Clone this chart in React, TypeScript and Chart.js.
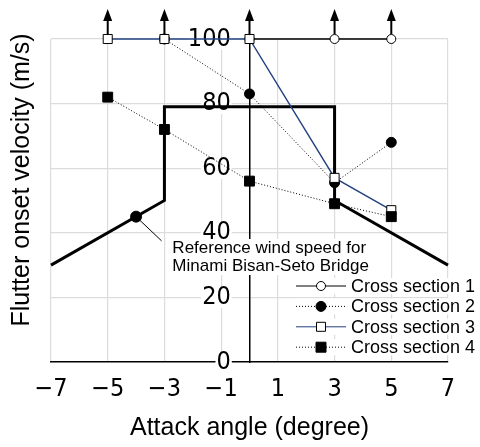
import React, { useEffect, useRef } from "react";
import { Chart, registerables } from "chart.js";

Chart.register(...registerables);

// ---- data ----
const xTicks = [-7, -5, -3, -1, 1, 3, 5, 7];
const yTicks = [0, 20, 40, 60, 80, 100];

const sec1X = [0, 3, 5];
const sec1Y = [100, 100, 100];
const sec2X = [-3, 0, 3, 5];
const sec2Y = [100, 83, 55.5, 68];
const sec3X = [-5, -3, 0, 3, 5];
const sec3Y = [100, 100, 100, 57, 47];
const sec4X = [-5, -3, 0, 3, 5];
const sec4Y = [82, 72, 56, 49, 45];

const refX = [-7, -3, -3, 3, 3, 7];
const refY = [30, 50, 79, 79, 50, 30];
const refMarkX = [-4, -3.1];
const refMarkY = [45, 37.5];

const arrowX = [-5, -3, 0, 3, 5];
const arrowY = [100, 100, 100, 100, 100];

const annotationLines = ["Reference wind speed for", "Minami Bisan-Seto Bridge"];
const annotationX = -2.72;
const annotationY = 35.3;

const legendLabels = ["Cross section 1", "Cross section 2", "Cross section 3", "Cross section 4"];
const xTitle = "Attack angle (degree)";
const yTitle = "Flutter onset velocity (m/s)";

const NAVY = "#24417f";
const NARROW = '"Liberation Sans Narrow", "DejaVu Sans Condensed", "Roboto Condensed", sans-serif';
const SANS = '"Liberation Sans", Arial, Helvetica, sans-serif';

const pts = (xs: number[], ys: number[]) => xs.map((x, i) => ({ x, y: ys[i] }));

type Style = { color: string; dash: number[]; marker: "oc" | "fc" | "os" | "fs" };
const legendStyles: Style[] = [
  { color: "#000", dash: [], marker: "oc" },
  { color: "#000", dash: [1, 2], marker: "fc" },
  { color: NAVY, dash: [], marker: "os" },
  { color: "#000", dash: [1, 2], marker: "fs" },
];

function drawMarker(ctx: CanvasRenderingContext2D, m: Style["marker"], cx: number, cy: number) {
  ctx.save();
  ctx.setLineDash([]);
  ctx.lineWidth = 1;
  ctx.strokeStyle = "#000";
  ctx.beginPath();
  if (m === "oc" || m === "fc") {
    ctx.arc(cx, cy, m === "oc" ? 4.5 : 5, 0, Math.PI * 2);
  } else {
    const s = m === "os" ? 4.5 : 5;
    ctx.rect(cx - s, cy - s, 2 * s, 2 * s);
  }
  ctx.fillStyle = m === "oc" || m === "os" ? "#fff" : "#000";
  ctx.fill();
  ctx.stroke();
  ctx.restore();
}

const overlayPlugin = {
  id: "overlay",
  afterDatasetsDraw(chart: any) {
    const { ctx, chartArea } = chart;
    const xs = chart.scales.x;
    const ys = chart.scales.y;
    ctx.save();

    // arrows above points at the top
    ctx.strokeStyle = "#000";
    ctx.fillStyle = "#000";
    arrowX.forEach((v, i) => {
      const px = xs.getPixelForValue(v);
      const py = ys.getPixelForValue(arrowY[i]);
      ctx.lineWidth = 2;
      ctx.setLineDash([]);
      ctx.beginPath();
      ctx.moveTo(px, py - 5);
      ctx.lineTo(px, py - 19);
      ctx.stroke();
      ctx.beginPath();
      ctx.moveTo(px, py - 30);
      ctx.lineTo(px - 4.5, py - 18);
      ctx.lineTo(px + 4.5, py - 18);
      ctx.closePath();
      ctx.fill();
    });

    // annotation text
    ctx.font = `17px ${SANS}`;
    ctx.textBaseline = "middle";
    ctx.textAlign = "left";
    const ax = xs.getPixelForValue(annotationX);
    const ay = ys.getPixelForValue(annotationY);
    annotationLines.forEach((t, i) => {
      const w = ctx.measureText(t).width;
      ctx.fillStyle = "#fff";
      ctx.fillRect(ax - 2, ay + i * 18 - 9, w + 4, 18);
    });
    ctx.fillStyle = "#000";
    annotationLines.forEach((t, i) => {
      ctx.fillText(t, ax, ay + i * 18);
    });

    // legend
    ctx.font = `18px ${SANS}`;
    legendLabels.forEach((t, i) => {
      const cy = chartArea.bottom - 76 + i * 20.4;
      const x0 = chartArea.right - 152;
      const st = legendStyles[i];
      const w = ctx.measureText(t).width;
      ctx.fillStyle = "#fff";
      ctx.fillRect(x0, cy - 8, 55 + w, 16);
      ctx.strokeStyle = st.color;
      ctx.lineWidth = 1;
      ctx.setLineDash(st.dash);
      ctx.beginPath();
      ctx.moveTo(x0, cy);
      ctx.lineTo(x0 + 50, cy);
      ctx.stroke();
      drawMarker(ctx, st.marker, x0 + 25, cy);
      ctx.fillStyle = "#000";
      ctx.textAlign = "left";
      ctx.textBaseline = "middle";
      ctx.fillText(t, x0 + 55, cy + 1);
    });

    // y title
    ctx.save();
    ctx.translate(chartArea.left - 29, 180);
    ctx.rotate(-Math.PI / 2);
    ctx.font = `25px ${SANS}`;
    ctx.fillStyle = "#000";
    ctx.textAlign = "center";
    ctx.textBaseline = "middle";
    ctx.fillText(yTitle, 0, 0);
    ctx.restore();

    ctx.restore();
  },
};

export default function App() {
  const ref = useRef<HTMLCanvasElement | null>(null);
  useEffect(() => {
    document.body.style.margin = "0";
    const canvas = ref.current!;
    const chart = new Chart(canvas, {
      type: "line",
      data: {
        datasets: [
          {
            label: legendLabels[3],
            data: pts(sec4X, sec4Y),
            borderColor: "#000",
            borderWidth: 1,
            borderDash: [1, 2],
            pointStyle: "rect",
            pointRadius: 7,
            pointBackgroundColor: "#000",
            pointBorderColor: "#000",
            pointBorderWidth: 1,
            clip: false as any,
            order: 0,
          },
          {
            label: legendLabels[2],
            data: pts(sec3X, sec3Y),
            borderColor: NAVY,
            borderWidth: 1.4,
            pointStyle: "rect",
            pointRadius: 6.4,
            pointBackgroundColor: "#fff",
            pointBorderColor: "#000",
            pointBorderWidth: 1,
            clip: false as any,
            order: 1,
          },
          {
            label: legendLabels[1],
            data: pts(sec2X, sec2Y),
            borderColor: "#000",
            borderWidth: 1,
            borderDash: [1, 2],
            pointStyle: "circle",
            pointRadius: 5,
            pointBackgroundColor: "#000",
            pointBorderColor: "#000",
            pointBorderWidth: 1,
            clip: false as any,
            order: 2,
          },
          {
            label: legendLabels[0],
            data: pts(sec1X, sec1Y),
            borderColor: "#000",
            borderWidth: 1.6,
            pointStyle: "circle",
            pointRadius: 4.5,
            pointBackgroundColor: "#fff",
            pointBorderColor: "#000",
            pointBorderWidth: 1,
            clip: false as any,
            order: 3,
          },
          {
            label: "Reference marker",
            data: pts(refMarkX, refMarkY),
            borderColor: "#000",
            borderWidth: 1,
            pointRadius: [5.5, 0],
            pointBackgroundColor: "#000",
            pointBorderColor: "#000",
            clip: false as any,
            order: 4,
          },
          {
            label: "Reference wind speed",
            data: pts(refX, refY),
            borderColor: "#000",
            borderWidth: 3,
            pointRadius: 0,
            clip: false as any,
            order: 5,
          },
        ],
      },
      options: {
        responsive: false,
        animation: false,
        events: [],
        layout: { padding: { top: 39, right: 32, left: 51, bottom: 0 } },
        plugins: {
          legend: { display: false },
          tooltip: { enabled: false },
        },
        scales: {
          x: {
            type: "linear",
            min: -7,
            max: 7,
            afterBuildTicks: (s: any) => {
              s.ticks = xTicks.map((v) => ({ value: v }));
            },
            afterFit: (s: any) => {
              s.height = 85;
            },
            grid: { color: "#dcdcdc", lineWidth: 1.2, drawTicks: false },
            border: { color: "#000", width: 1.5 },
            ticks: {
              padding: 12,
              color: "#000",
              font: { family: NARROW, size: 25, lineHeight: 1.2 },
              callback: (v: any) => (Number(v) < 0 ? "\u2212" + Math.abs(Number(v)) : String(v)),
            },
            title: {
              display: true,
              text: xTitle,
              color: "#000",
              font: { family: SANS, size: 25, lineHeight: 1.2 },
              padding: { top: 0, bottom: 4 },
            },
          },
          y: {
            type: "linear",
            position: { x: -0.66 } as any,
            min: 0,
            max: 100,
            afterBuildTicks: (s: any) => {
              s.ticks = yTicks.map((v) => ({ value: v }));
            },
            grid: {
              color: (c: any) => (c.tick && c.tick.value === 0 ? "rgba(0,0,0,0)" : "#dcdcdc"),
              lineWidth: 1.2,
              drawTicks: false,
            },
            border: { display: false },
            ticks: {
              color: "#000",
              font: { family: NARROW, size: 25, lineHeight: 0.85 },
              showLabelBackdrop: true,
              backdropColor: "#fff",
              backdropPadding: { top: 0, bottom: 0, left: 1, right: 1 },
            } as any,
          },
          yAxisLine: {
            type: "linear",
            position: { x: 0 } as any,
            min: 0,
            max: 100,
            grid: { display: false, drawTicks: false },
            border: { color: "#000", width: 1.5 },
            ticks: { display: false },
          },
        },
      },
      plugins: [overlayPlugin],
    } as any);
    return () => chart.destroy();
  }, []);
  return (
    <div style={{ width: 480, height: 447 }}>
      <canvas ref={ref} width={480} height={447} style={{ display: "block" }} />
    </div>
  );
}
